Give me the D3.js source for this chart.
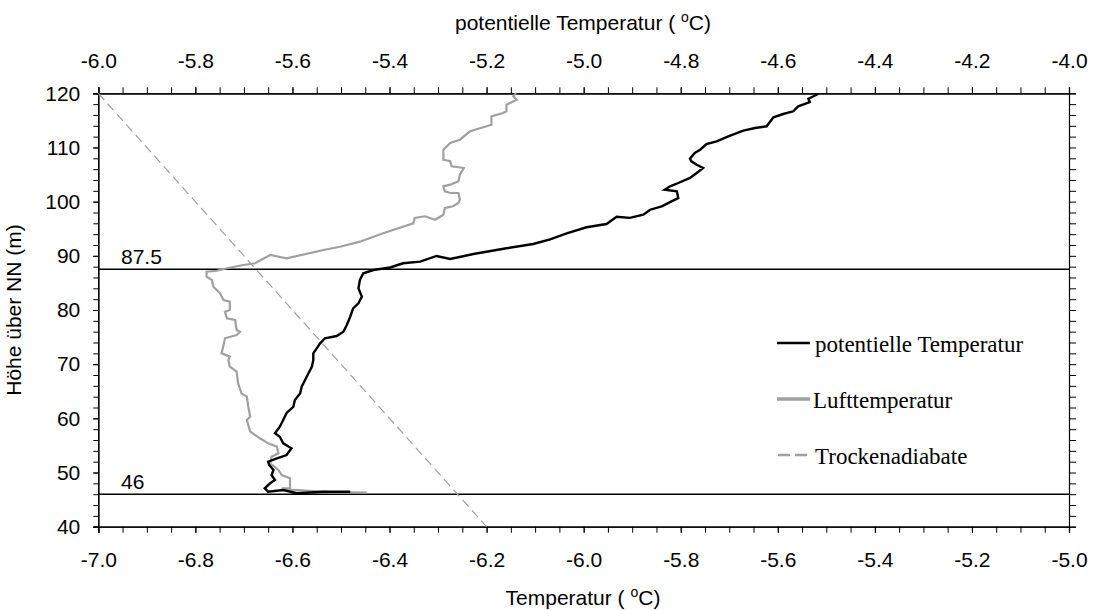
<!DOCTYPE html>
<html>
<head>
<meta charset="utf-8">
<script src="https://cdn.jsdelivr.net/npm/d3@7"></script>
<style>
    body { margin: 0; background: #fff; }
    text { font-family: "Liberation Sans", Arial, sans-serif; }
</style>
</head>
<body>
<div id="chart"></div>
<script>
// Lufttemperatur (bottom axis), bottom -> top
const airHeight = [46.31, 46.4, 46.78, 47.09, 47.09, 48.93, 49.54, 50.47, 51.7, 52.92, 53.55, 54.77, 55.39, 56.32, 57.54,
    59.7, 60.3, 62.15, 64.0, 64.62, 66.47, 68.61, 69.53, 70.77, 71.38, 72.01, 73.54, 74.78, 75.39, 75.99, 76.3, 78.15,
    78.47, 79.69, 80.0, 81.53, 81.85, 83.08, 84.3, 85.54, 86.15, 87.07, 87.25, 87.7, 88.31, 88.62, 90.15, 89.54, 91.08,
    91.68, 92.61, 94.16, 96.0, 96.98, 97.3, 96.67, 97.59, 98.83, 99.14, 99.75, 100.36, 101.6, 101.6, 101.9, 102.83,
    103.13, 103.76, 104.97, 106.21, 106.53, 107.45, 107.74, 109.59, 110.83, 111.44, 112.99, 113.91, 114.2, 115.75,
    116.36, 116.68, 117.9, 118.82, 119.45, 120.0];
const airTemp = [-6.447, -6.523, -6.598, -6.622, -6.605, -6.605, -6.622, -6.629, -6.646, -6.643, -6.629, -6.632, -6.65,
    -6.667, -6.687, -6.694, -6.687, -6.691, -6.694, -6.705, -6.712, -6.715, -6.729, -6.732, -6.729, -6.746, -6.742,
    -6.739, -6.715, -6.708, -6.715, -6.718, -6.735, -6.739, -6.729, -6.729, -6.742, -6.749, -6.763, -6.766, -6.777,
    -6.777, -6.756, -6.735, -6.701, -6.677, -6.646, -6.612, -6.536, -6.502, -6.461, -6.413, -6.351, -6.348, -6.327,
    -6.306, -6.289, -6.286, -6.269, -6.258, -6.255, -6.258, -6.275, -6.286, -6.289, -6.275, -6.258, -6.255, -6.247,
    -6.272, -6.275, -6.289, -6.289, -6.275, -6.255, -6.234, -6.2, -6.19, -6.19, -6.166, -6.159, -6.159, -6.138,
    -6.145, -6.139];

// potentielle Temperatur (top axis), bottom -> top
const potHeight = [46.46, 46.46, 46.17, 46.78, 46.46, 47.09, 48.01, 48.62, 49.54, 50.47, 51.39, 52.0, 52.63, 53.23,
    54.47, 55.39, 56.61, 57.24, 58.46, 59.7, 60.99, 62.15, 63.39, 64.62, 65.84, 67.08, 68.32, 69.53, 70.77, 72.01,
    72.93, 73.85, 74.78, 75.2, 75.99, 77.23, 78.76, 80.31, 81.24, 82.46, 84.01, 85.54, 86.77, 87.38, 87.85, 88.62,
    88.92, 89.97, 89.41, 90.34, 91.39, 92.18, 93.05, 94.16, 95.27, 95.87, 97.22, 97.0, 97.59, 98.51, 99.14, 100.06,
    100.67, 101.91, 102.21, 102.83, 103.44, 104.37, 105.29, 106.21, 106.82, 107.45, 107.93, 108.98, 109.59, 110.64,
    111.14, 112.06, 113.1, 113.59, 113.91, 115.57, 116.18, 116.68, 117.6, 118.39, 119.0, 119.87];
const potTemp = [-5.481, -5.536, -5.591, -5.619, -5.65, -5.657, -5.646, -5.636, -5.643, -5.639, -5.648, -5.65, -5.632,
    -5.612, -5.602, -5.619, -5.626, -5.636, -5.626, -5.619, -5.612, -5.598, -5.595, -5.584, -5.581, -5.574, -5.567,
    -5.56, -5.557, -5.557, -5.55, -5.543, -5.533, -5.509, -5.495, -5.488, -5.481, -5.475, -5.464, -5.457, -5.464,
    -5.461, -5.454, -5.433, -5.399, -5.372, -5.337, -5.303, -5.275, -5.227, -5.159, -5.104, -5.069, -5.035, -4.994,
    -4.953, -4.932, -4.905, -4.877, -4.863, -4.839, -4.819, -4.805, -4.808, -4.833, -4.822, -4.805, -4.781, -4.767,
    -4.754, -4.767, -4.778, -4.781, -4.771, -4.76, -4.747, -4.726, -4.702, -4.671, -4.647, -4.623, -4.609, -4.589,
    -4.568, -4.558, -4.534, -4.537, -4.517];

// Trockenadiabate (bottom axis)
const adiabatHeight = [120, 40];
const adiabatTemp = [-7.0, -6.2];

// marked levels
const levels = [87.5, 46];

const bottomTicks = d3.range(-7.0, -4.99, 0.2);
const topTicks = d3.range(-6.0, -3.99, 0.2);
const yTicks = d3.range(40, 121, 10);

const legendItems = ["potentielle Temperatur", "Lufttemperatur", "Trockenadiabate"];

const width = 1093, height = 610;
const plotLeft = 98.3, plotRight = 1069, plotTop = 93.3, plotBottom = 526.7;
const grey = "#a0a0a0";

const svg = d3.select("#chart").append("svg")
    .attr("width", width)
    .attr("height", height);

const x = d3.scaleLinear().domain([-7, -5]).range([plotLeft, plotRight]);
const xTop = d3.scaleLinear().domain([-6, -4]).range([plotLeft, plotRight]);
const y = d3.scaleLinear().domain([40, 120]).range([plotBottom, plotTop]);

// plain hyphen as minus sign, like the original
const fmt = d => d.toFixed(1);

// axes: major ticks with labels, minor ticks without
function styleAxis(g) {
    g.select(".domain").attr("stroke", "#000").attr("stroke-width", 1.2);
    g.selectAll(".tick line").attr("stroke", "#000").attr("stroke-width", 1);
    g.selectAll("text").attr("font-size", "21px").attr("fill", "#000")
        .style("font-family", "'Liberation Sans', Arial, sans-serif");
}

svg.append("g").attr("transform", `translate(0,${plotBottom})`)
    .call(d3.axisBottom(x).tickValues(d3.range(-7, -4.99, 0.05)).tickSize(6).tickFormat(""))
    .call(styleAxis);
svg.append("g").attr("transform", `translate(0,${plotBottom})`)
    .call(d3.axisBottom(x).tickValues(bottomTicks).tickSize(6).tickPadding(19).tickFormat(fmt))
    .call(styleAxis);

svg.append("g").attr("transform", `translate(0,${plotTop})`)
    .call(d3.axisTop(xTop).tickValues(d3.range(-6, -3.99, 0.05)).tickSize(6).tickFormat(""))
    .call(styleAxis);
svg.append("g").attr("transform", `translate(0,${plotTop})`)
    .call(d3.axisTop(xTop).tickValues(topTicks).tickSize(6).tickPadding(19).tickFormat(fmt))
    .call(styleAxis);

svg.append("g").attr("transform", `translate(${plotLeft},0)`)
    .call(d3.axisLeft(y).tickValues(d3.range(40, 121, 2)).tickSize(5).tickFormat(""))
    .call(styleAxis);
svg.append("g").attr("transform", `translate(${plotLeft},0)`)
    .call(d3.axisLeft(y).tickValues(yTicks).tickSize(5).tickPadding(13).tickFormat(d => d))
    .call(styleAxis);

svg.append("g").attr("transform", `translate(${plotRight},0)`)
    .call(d3.axisRight(y).tickValues(d3.range(40, 121, 2)).tickSize(7).tickFormat(""))
    .call(styleAxis);

// axis titles
function titleWithDegree(sel, label) {
    sel.append("tspan").text(label + " ( ");
    sel.append("tspan").text("o").attr("font-size", "14px").attr("dy", "-8");
    sel.append("tspan").text("C)").attr("dy", "8");
}

svg.append("text")
    .attr("x", 583).attr("y", 30)
    .attr("text-anchor", "middle")
    .attr("font-size", "21px")
    .call(titleWithDegree, "potentielle Temperatur");

svg.append("text")
    .attr("x", 583).attr("y", 605)
    .attr("text-anchor", "middle")
    .attr("font-size", "21px")
    .call(titleWithDegree, "Temperatur ");

svg.append("text")
    .attr("transform", "translate(21,310) rotate(-90)")
    .attr("text-anchor", "middle")
    .attr("font-size", "21px")
    .text("Höhe über NN (m)");

// level lines
svg.append("g").selectAll("line")
    .data(levels)
    .enter()
    .append("line")
    .attr("x1", plotLeft).attr("x2", plotRight)
    .attr("y1", d => y(d)).attr("y2", d => y(d))
    .attr("stroke", "#000")
    .attr("stroke-width", 1.5);

svg.append("g").selectAll("text")
    .data(levels)
    .enter()
    .append("text")
    .attr("x", 121)
    .attr("y", d => y(d) - 5)
    .attr("font-size", "21px")
    .text(d => d);

// dry adiabat
const adiabat = adiabatHeight.map((h, i) => ({ h: h, t: adiabatTemp[i] }));
svg.append("path")
    .datum(adiabat)
    .attr("d", d3.line().x(d => x(d.t)).y(d => y(d.h)))
    .attr("fill", "none")
    .attr("stroke", grey)
    .attr("stroke-width", 1.2)
    .attr("stroke-dasharray", "9,5");

// air temperature
const air = airHeight.map((h, i) => ({ h: h, t: airTemp[i] }));
svg.append("path")
    .datum(air)
    .attr("d", d3.line().x(d => x(d.t)).y(d => y(d.h)))
    .attr("fill", "none")
    .attr("stroke", grey)
    .attr("stroke-width", 2.2);

// potential temperature
const pot = potHeight.map((h, i) => ({ h: h, t: potTemp[i] }));
svg.append("path")
    .datum(pot)
    .attr("d", d3.line().x(d => xTop(d.t)).y(d => y(d.h)))
    .attr("fill", "none")
    .attr("stroke", "#000")
    .attr("stroke-width", 2.4);

// legend
const legendY = [343, 399, 455];
const legend = svg.append("g");
legend.append("line").attr("x1", 777).attr("x2", 810).attr("y1", legendY[0]).attr("y2", legendY[0])
    .attr("stroke", "#000").attr("stroke-width", 2.5);
legend.append("line").attr("x1", 777).attr("x2", 810).attr("y1", legendY[1]).attr("y2", legendY[1])
    .attr("stroke", grey).attr("stroke-width", 3.5);
legend.append("line").attr("x1", 778).attr("x2", 808).attr("y1", legendY[2]).attr("y2", legendY[2])
    .attr("stroke", grey).attr("stroke-width", 2.5).attr("stroke-dasharray", "12,5");

legend.selectAll("text")
    .data(legendItems)
    .enter()
    .append("text")
    .attr("x", (d, i) => i === 1 ? 813 : 815)
    .attr("y", (d, i) => legendY[i] + 8.5)
    .attr("font-size", "23px")
    .style("font-family", "'Liberation Serif', 'Times New Roman', serif")
    .text(d => d);
</script>
</body>
</html>
